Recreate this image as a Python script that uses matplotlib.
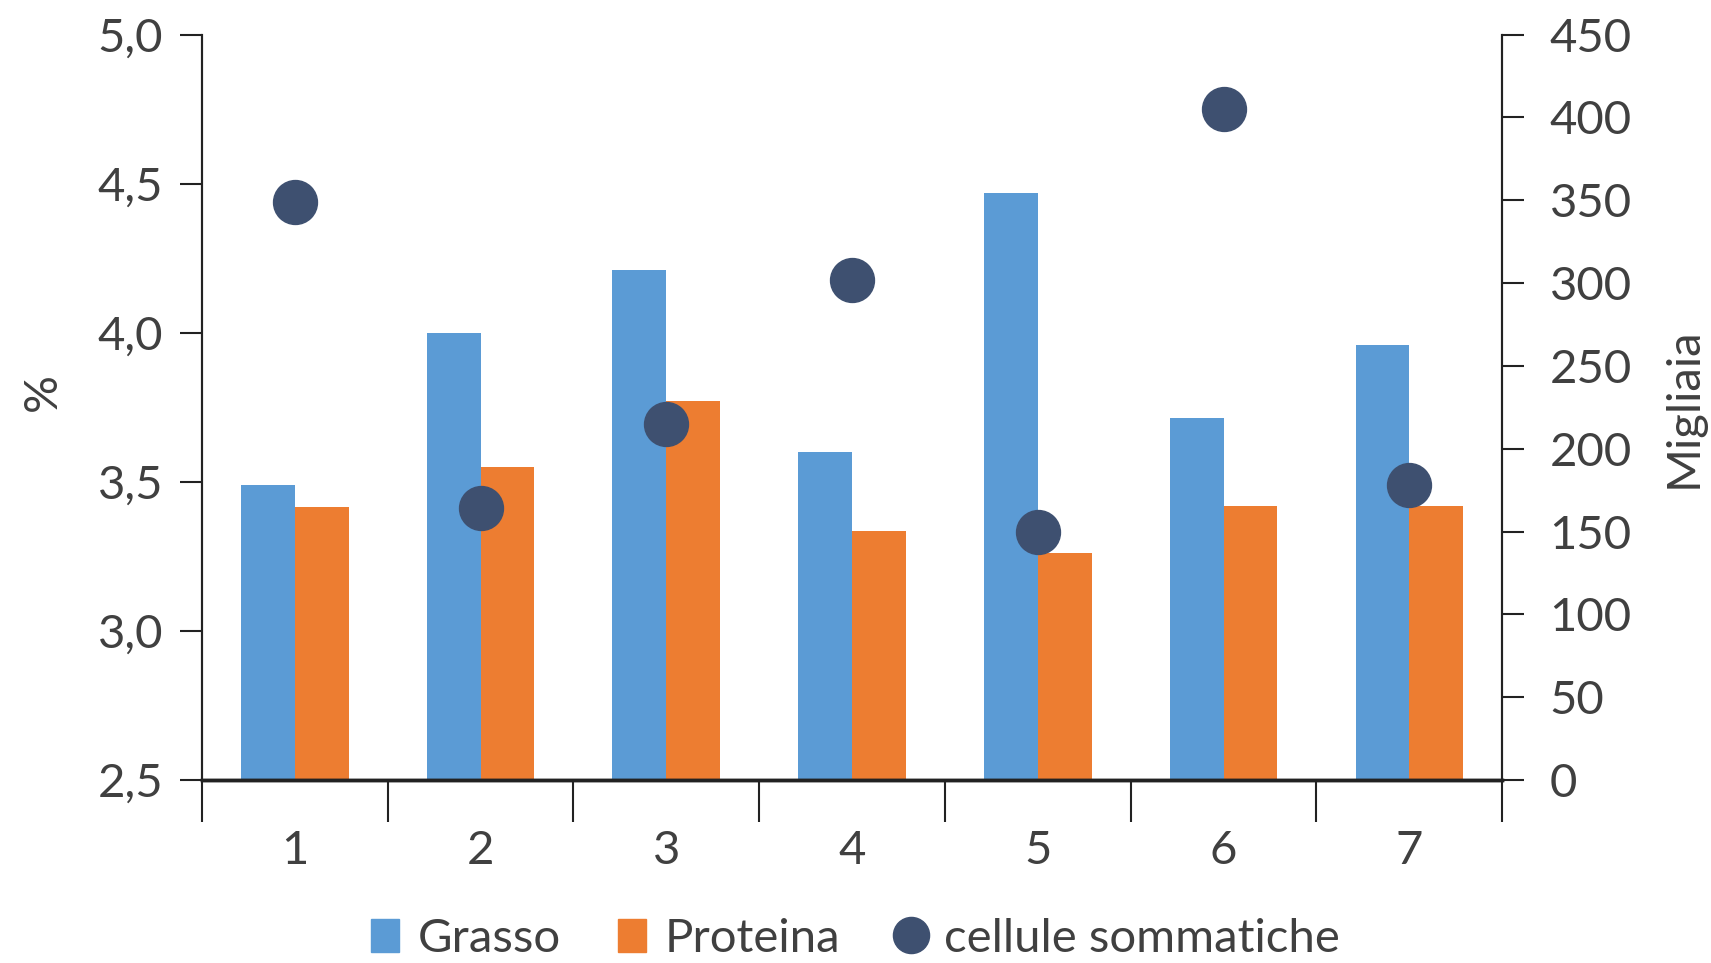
import numpy as np
import matplotlib.pyplot as plt
from matplotlib.lines import Line2D
from matplotlib.patches import Patch

plt.rcParams['font.family'] = ['Lato', 'DejaVu Sans']

# dati
categorie = ['1', '2', '3', '4', '5', '6', '7']
grasso = [3.49, 4.00, 4.21, 3.60, 4.47, 3.715, 3.96]
proteina = [3.415, 3.55, 3.77, 3.335, 3.26, 3.42, 3.42]
cellule = [349, 164, 215, 302, 150, 405, 178]

blu = '#5B9BD5'
arancio = '#ED7D31'
scuro = '#3E5070'
testo = '#404040'
fs = 34

fig = plt.figure(figsize=(17.11, 9.63), dpi=100)
ax = fig.add_axes([0.118, 0.19, 0.760, 0.774])
ax2 = ax.twinx()

x = np.arange(len(categorie))
w = 0.29
ax.bar(x - w / 2, grasso, w, color=blu, zorder=2)
ax.bar(x + w / 2, proteina, w, color=arancio, zorder=2)

ax.set_ylim(2.5, 5.0)
ax.set_xlim(-0.5, len(categorie) - 0.5)
ax.set_yticks(np.arange(2.5, 5.01, 0.5))
ax.set_yticklabels([f'{v:.1f}'.replace('.', ',') for v in np.arange(2.5, 5.01, 0.5)])
ax.set_xticks(x)
ax.set_xticklabels(categorie)
ax.set_xticks(np.arange(-0.5, len(categorie), 1), minor=True)
ax.tick_params(axis='x', which='major', length=0, pad=36, labelsize=fs, colors=testo)
ax.tick_params(axis='x', which='minor', length=30, width=1.5, direction='out', color='#222222')
ax.tick_params(axis='y', length=16, width=1.5, labelsize=fs, colors=testo, pad=12)
ax.tick_params(axis='y', color='#222222')

ax2.scatter(x, cellule, s=1000, color=scuro, zorder=3)
ax2.set_ylim(0, 450)
ax2.set_yticks(np.arange(0, 451, 50))
ax2.tick_params(axis='y', length=16, width=1.5, labelsize=fs, colors=testo, pad=18)
ax2.tick_params(axis='y', color='#222222')

for a in (ax, ax2):
    a.spines['top'].set_visible(False)
    a.spines['left'].set_linewidth(1.5)
    a.spines['right'].set_linewidth(1.5)
    a.spines['bottom'].set_linewidth(2.5)
    a.spines['left'].set_color('#222222')
    a.spines['right'].set_color('#222222')
    a.spines['bottom'].set_color('#222222')

ax.set_ylabel('%', fontsize=fs, color=testo)
ax.yaxis.set_label_coords(-0.106, 0.52)
ax2.set_ylabel('Migliaia', fontsize=fs, color=testo, rotation=90, labelpad=22)

handles = [
    Patch(color=blu, label='Grasso'),
    Patch(color=arancio, label='Proteina'),
    Line2D([], [], marker='o', linestyle='none', markersize=26, color=scuro, label='cellule sommatiche'),
]
leg = fig.legend(handles=handles, loc='center', bbox_to_anchor=(0.5, 0.025), ncol=3,
                 frameon=False, fontsize=fs, handlelength=0.6, handleheight=0.7,
                 handletextpad=0.4, columnspacing=1.2)
for t in leg.get_texts():
    t.set_color(testo)

fig.savefig('out.png', dpi=100)
